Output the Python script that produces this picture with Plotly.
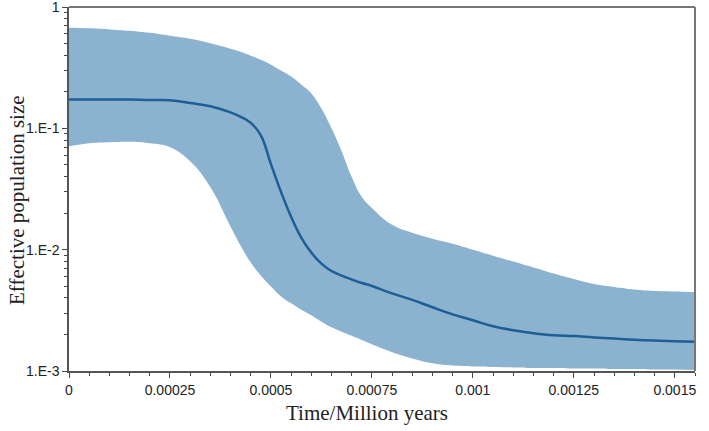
import plotly.graph_objects as go

# Time (million years)
time_myr = [0.0, 0.00005, 0.0001, 0.00015, 0.0002, 0.00025, 0.0003, 0.00035,
            0.0004, 0.000425, 0.00045, 0.000475, 0.0005, 0.000525, 0.00055, 0.000575,
            0.0006, 0.000625, 0.00065, 0.000675, 0.0007, 0.000725, 0.00075,
            0.0008, 0.00085, 0.0009, 0.00095, 0.001, 0.00105, 0.0011, 0.00115,
            0.0012, 0.00125, 0.0013, 0.00135, 0.0014, 0.00145, 0.0015, 0.00155]

# Median effective population size
median_ne = [0.173, 0.173, 0.173, 0.173, 0.171, 0.170, 0.162, 0.152,
             0.1352, 0.1243, 0.1110, 0.0876, 0.0507, 0.02988, 0.01864, 0.01254,
             0.00945, 0.00768, 0.00667, 0.00612, 0.00568, 0.00531, 0.00502,
             0.00436, 0.00386, 0.00335, 0.00293, 0.00262, 0.00234, 0.00217, 0.00205,
             0.00197, 0.00194, 0.00189, 0.00185, 0.00181, 0.00178, 0.00176, 0.00174]

# 95% HPD upper bound
upper_ne = [0.673, 0.667, 0.654, 0.636, 0.612, 0.579, 0.547, 0.502,
            0.453, 0.428, 0.397, 0.368, 0.335, 0.299, 0.267, 0.2295,
            0.194, 0.1459, 0.100, 0.0648, 0.0397, 0.0272, 0.0221,
            0.01603, 0.01378, 0.01231, 0.01120, 0.0100, 0.00893, 0.00797, 0.00712,
            0.00636, 0.00573, 0.00521, 0.00493, 0.00470, 0.00457, 0.00453, 0.00448]

# 95% HPD lower bound
lower_ne = [0.0712, 0.0753, 0.0768, 0.0775, 0.0753, 0.0699, 0.0536, 0.0328,
            0.01544, 0.01078, 0.00782, 0.00612, 0.00497, 0.00412, 0.00361, 0.00319,
            0.00288, 0.00255, 0.00229, 0.00211, 0.00195, 0.00180, 0.00166,
            0.00143, 0.00127, 0.00116, 0.00111, 0.00109, 0.00108, 0.00107, 0.00106,
            0.00106, 0.00105, 0.00105, 0.00104, 0.00104, 0.00103, 0.00103, 0.00102]

x_tickvals = [0, 0.00025, 0.0005, 0.00075, 0.001, 0.00125, 0.0015]
x_ticktext = ["0", "0.00025", "0.0005", "0.00075", "0.001", "0.00125", "0.0015"]
y_tickvals = [1, 0.1, 0.01, 0.001]
y_ticktext = ["1", "1.E-1", "1.E-2", "1.E-3"]
y_minor = [m * 10 ** e for e in (-3, -2, -1) for m in range(2, 10)]

x_title = "Time/Million years"
y_title = "Effective population size"

fill_color = "#8bb3d0"
line_color = "#1d5e96"
smooth = 1.2

fig = go.Figure()
fig.add_trace(go.Scatter(x=time_myr, y=lower_ne, mode="lines",
                         line=dict(width=0, shape="spline", smoothing=smooth, color=fill_color),
                         showlegend=False, hoverinfo="skip"))
fig.add_trace(go.Scatter(x=time_myr, y=upper_ne, mode="lines",
                         line=dict(width=0, shape="spline", smoothing=smooth, color=fill_color),
                         fill="tonexty", fillcolor=fill_color,
                         showlegend=False, hoverinfo="skip"))
fig.add_trace(go.Scatter(x=time_myr, y=median_ne, mode="lines",
                         line=dict(width=2.5, shape="spline", smoothing=smooth, color=line_color),
                         showlegend=False))

tick_font = dict(family="Liberation Sans, Arial, sans-serif", size=14, color="#222")
title_font = dict(family="Liberation Serif, Times New Roman, serif", size=21, color="#222")

fig.update_layout(
    width=709, height=431,
    margin=dict(l=69, r=14, t=7, b=60, autoexpand=False),
    paper_bgcolor="white", plot_bgcolor="white",
    xaxis=dict(
        range=[0, 0.00155], tickmode="array", tickvals=x_tickvals, ticktext=x_ticktext,
        ticks="outside", ticklen=5, tickwidth=1, tickcolor="#444",
        minor=dict(dtick=0.00005, tick0=0, ticks="outside", ticklen=3, tickcolor="#444"),
        showline=True, linecolor="#555", linewidth=1.5,
        showgrid=False, zeroline=False, tickfont=tick_font,
        ticklabeloverflow="allow", automargin=False,
    ),
    yaxis=dict(
        type="log", range=[-3, 0], tickmode="array", tickvals=y_tickvals, ticktext=y_ticktext,
        ticks="outside", ticklen=5, tickwidth=1, tickcolor="#444",
        minor=dict(tickvals=y_minor, ticks="outside", ticklen=3, tickcolor="#444"),
        showline=True, linecolor="#555", linewidth=1.5,
        showgrid=False, zeroline=False, tickfont=tick_font,
        ticklabeloverflow="allow", automargin=False,
    ),
    shapes=[
        dict(type="line", xref="paper", yref="paper", x0=0, x1=1, y0=1, y1=1,
             line=dict(color="#777", width=2)),
        dict(type="line", xref="paper", yref="paper", x0=1, x1=1, y0=0, y1=1,
             line=dict(color="#777", width=2)),
    ],
    annotations=[
        dict(text=x_title, xref="paper", yref="paper", x=(367 - 69) / 626, y=0,
             yshift=-42, xanchor="center", yanchor="middle", showarrow=False, font=title_font),
        dict(text=y_title, xref="paper", yref="paper", x=0, y=(371 - 200) / 364,
             xshift=-52, xanchor="center", yanchor="middle", textangle=-90,
             showarrow=False, font=title_font),
    ],
)

fig.write_html("out.html")
